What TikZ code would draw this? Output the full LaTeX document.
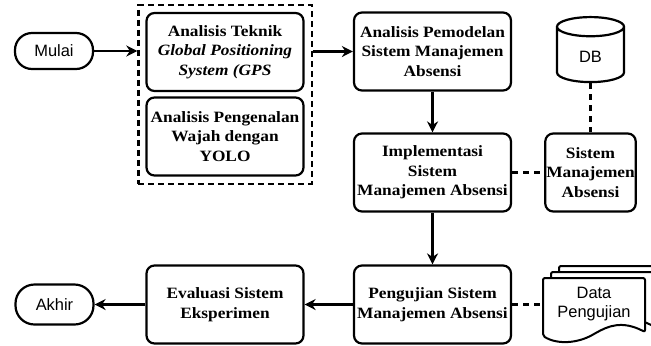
\documentclass[tikz,border=0pt]{standalone}
\usepackage{fontspec}
\setmainfont{Liberation Serif}[FakeStretch=1.1]
\newfontfamily\arialfont{Liberation Sans}
\usetikzlibrary{arrows.meta,shapes.geometric,fit}
\tikzset{
  proses/.style={draw, line width=2.2bp, rounded corners=8bp, align=center, minimum width=157bp, minimum height=78bp, inner sep=1bp, font=\fontsize{15.8}{19.5}\selectfont\bfseries},
  terminal/.style={draw, line width=2.2bp, rounded corners=17bp, minimum width=78bp, minimum height=36bp, font=\arialfont\fontsize{16.5}{19}\selectfont},
  panah/.style={line width=2.2bp, -{Stealth[length=11bp,width=11bp]}},
  putus/.style={line width=2.2bp, dash pattern=on 6bp off 5bp},
  grup/.style={draw, line width=2.2bp, dash pattern=on 6bp off 4bp, inner sep=7bp},
  dokumen/.style={draw, line width=2bp, fill=white, rounded corners=2bp}
}
\begin{document}
\begin{tikzpicture}[x=1bp,y=-1bp]
    \useasboundingbox (0,0) rectangle (651,345);
    \node[terminal] (mulai) at (54,51) {Mulai};
    \node[proses] (gps) at (225,52) {Analisis Teknik\\\textit{Global Positioning}\\\textit{System (GPS}};
    \node[proses] (yolo) at (225,136.5) {Analisis Pengenalan\\Wajah dengan\\YOLO};
    \node[grup, fit=(gps)(yolo)] (grup) {};
    \node[proses] (model) at (432.5,51.5) {Analisis Pemodelan\\Sistem Manajemen\\Absensi};
    \node[cylinder, shape border rotate=90, draw, line width=2.2bp, aspect=0.65, minimum width=67bp, minimum height=65bp, font=\arialfont\fontsize{16.5}{19}\selectfont] (db) at (590.5,57) {DB};
    \node[proses] (impl) at (432.5,172.5) {Implementasi\\Sistem\\Manajemen Absensi};
    \node[proses, minimum width=90bp] (sistem) at (590.5,172.5) {Sistem\\Manajemen\\Absensi};
    \node[proses] (uji) at (432.5,304.5) {Pengujian Sistem\\Manajemen Absensi};
    \node[proses] (eval) at (225,304.5) {Evaluasi Sistem\\Eksperimen};
    \node[terminal, minimum height=40bp, rounded corners=19bp] (akhir) at (54.5,304.5) {Akhir};
    \foreach \d in {16,8,0}{
        \draw[dokumen, shift={(\d,-0.75*\d)}] (543,278) -- (645,278) -- (645,332) .. controls (622,320) and (608,326) .. (594,334) .. controls (578,343) and (558,345) .. (543,336) -- cycle;
    }
    \node[minimum width=102bp, align=center, font=\arialfont\fontsize{16.5}{19}\selectfont] (data) at (594,304.5) {Data\\Pengujian};
    \draw[panah] (mulai) -- (grup.west |- mulai);
    \draw[panah] (grup.east |- model.west) -- (model.west);
    \draw[panah] (model) -- (impl);
    \draw[panah] (impl) -- (uji);
    \draw[panah] (uji) -- (eval);
    \draw[panah] (eval) -- (akhir);
    \draw[putus] (db) -- (sistem);
    \draw[putus] (impl) -- (sistem);
    \draw[putus] (uji) -- (data);
\end{tikzpicture}
\end{document}
